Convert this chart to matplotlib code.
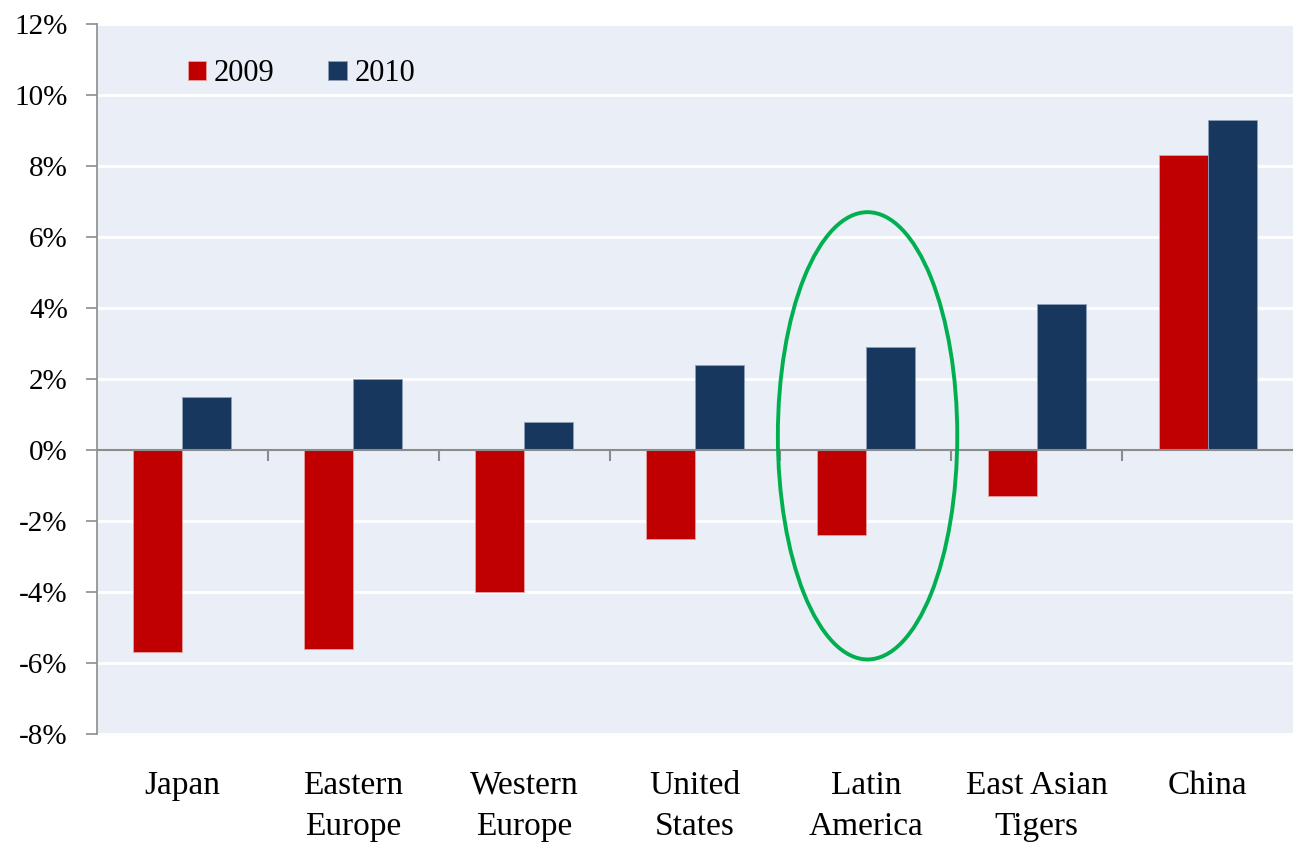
import matplotlib.pyplot as plt
import numpy as np
from matplotlib.patches import Ellipse

regions = ['Japan', 'Eastern\nEurope', 'Western\nEurope', 'United\nStates',
           'Latin\nAmerica', 'East Asian\nTigers', 'China']
growth_2009 = [-5.7, -5.6, -4.0, -2.5, -2.4, -1.3, 8.3]
growth_2010 = [1.5, 2.0, 0.8, 2.4, 2.9, 4.1, 9.3]
yticks = [-8, -6, -4, -2, 0, 2, 4, 6, 8, 10, 12]

plt.rcParams['font.family'] = ['Liberation Serif', 'DejaVu Serif']

fig = plt.figure(figsize=(12.93, 8.46), dpi=100)
ax = fig.add_axes([0.075, 0.1324, 0.925, 0.8392])
ax.set_facecolor('#EAEEF6')

x = np.arange(len(regions))
w = 0.287
ax.bar(x - w/2, growth_2009, w, color='#C00000', edgecolor='#E5A0A0', linewidth=0.6, label='2009', zorder=3)
ax.bar(x + w/2, growth_2010, w, color='#17375E', edgecolor='#8EA0B8', linewidth=0.6, label='2010', zorder=3)

ax.set_xlim(-0.5, len(regions) - 0.5)
ax.set_ylim(-8, 12)
ax.set_yticks(yticks)
ax.set_yticklabels([f'{t}%' for t in yticks], fontsize=21)
for t in yticks:
    if t != 0:
        ax.axhline(t, color='white', linewidth=2, zorder=1)
ax.axhline(0, color='#8C8C8C', linewidth=1.5, zorder=4)
ax.vlines(x[:-1] + 0.5, -0.3, 0, color='#8C8C8C', linewidth=1.5, zorder=4)

ax.set_xticks(x)
ax.set_xticklabels(regions, fontsize=24, linespacing=1.45)
ax.tick_params(axis='x', length=0, pad=26)
ax.tick_params(axis='y', length=8, color='#8C8C8C', width=1.2, pad=13)
for s in ['top', 'right', 'bottom']:
    ax.spines[s].set_visible(False)
ax.spines['left'].set_color('#8C8C8C')
ax.spines['left'].set_linewidth(1.2)

ax.add_patch(Ellipse((4.01, 0.4), 1.05, 12.6, fill=False, edgecolor='#00B050', linewidth=2.8, zorder=5))

ax.legend(loc='center left', bbox_to_anchor=(0.066, 0.93), frameon=False, ncol=2,
          fontsize=22, handlelength=0.6, handleheight=0.6, handletextpad=0.25,
          columnspacing=1.75, borderaxespad=0)

fig.savefig('out.png', dpi=100)
